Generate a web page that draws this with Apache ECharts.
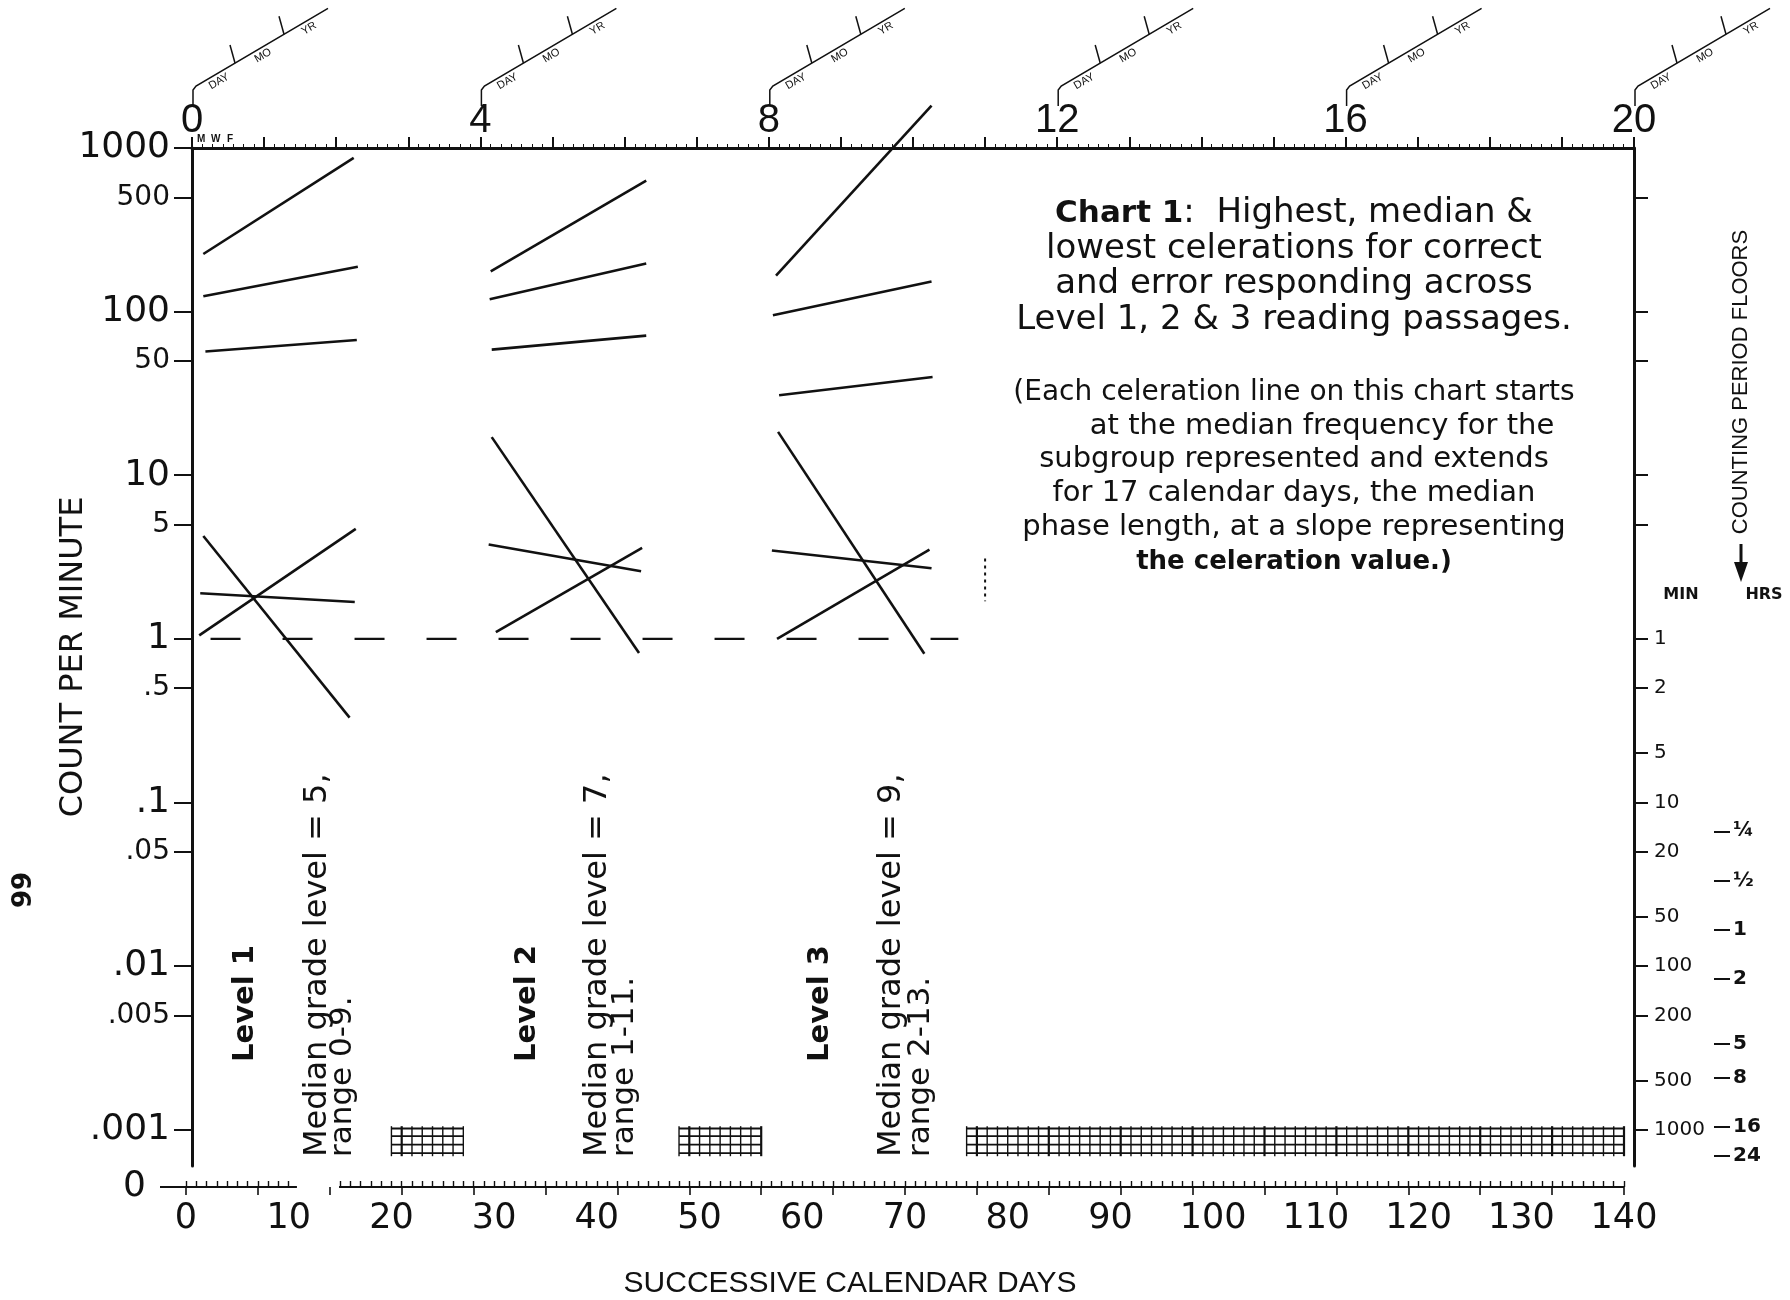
<!DOCTYPE html>
<html>
<head>
<meta charset="utf-8">
<script src="https://cdn.jsdelivr.net/npm/echarts@6.0.0/dist/echarts.min.js"></script>
<style>
  html, body { margin: 0; padding: 0; background: #fff; }
  #main { width: 1790px; height: 1300px; }
</style>
</head>
<body>
<div id="main"></div>
<script>
// celeration lines: [start day, start count/min, end day, end count/min]
var level1Lines = [
  [1.1, 225, 15.7, 870],
  [1.1, 124, 16.1, 188],
  [1.3, 57, 16.0, 67],
  [0.7, 1.05, 15.9, 4.7],
  [0.8, 1.9, 15.8, 1.68],
  [1.1, 4.25, 15.3, 0.33]
];
var level2Lines = [
  [29.0, 176, 44.1, 632],
  [28.9, 119, 44.1, 197],
  [29.1, 58.6, 44.1, 71.3],
  [29.1, 17.1, 43.4, 0.82],
  [28.8, 3.77, 43.6, 2.59],
  [29.5, 1.1, 43.7, 3.6]
];
var level3Lines = [
  [56.7, 166, 71.8, 1816],
  [56.4, 95, 71.8, 153],
  [57.0, 30.8, 71.9, 39.8],
  [56.9, 18.4, 71.1, 0.81],
  [56.3, 3.47, 71.8, 2.7],
  [56.8, 1.0, 71.6, 3.51]
];
var floorLine = [[1.8, 1], [74.4, 1]];
var phaseMark = [[77, 3.1], [77, 1.7]];
var recordFloorDays = [[20, 27], [48, 56], [76, 140]];
var dayAxisSegments = [[0, 10.8], [14.9, 140]];

// ticks and labels
var weekTickDays = [0, 28, 56, 84, 112, 140];
var weekLabels = ['0', '4', '8', '12', '16', '20'];
var mwfDays = [0.9, 2.3, 3.7];
var mwfLabels = ['M', 'W', 'F'];
var dayLabelValues = [0, 10, 20, 30, 40, 50, 60, 70, 80, 90, 100, 110, 120, 130, 140];
var countTicks = [1000, 500, 100, 50, 10, 5, 1, 0.5, 0.1, 0.05, 0.01, 0.005, 0.001];
var countLabels = ['1000', '500', '100', '50', '10', '5', '1', '.5', '.1', '.05', '.01', '.005', '.001'];
var minTicks = [500, 100, 50, 10, 5, 1, 0.5, 0.2, 0.1, 0.05, 0.02, 0.01, 0.005, 0.002, 0.001];
var minLabels = ['', '', '', '', '', '1', '2', '5', '10', '20', '50', '100', '200', '500', '1000'];
var hrsTicks = [1 / 15, 1 / 30, 1 / 60, 1 / 120, 1 / 300, 1 / 480, 1 / 960, 1 / 1440];
var hrsLabels = ['¼', '½', '1', '2', '5', '8', '16', '24'];

// texts
var titleLines = [
  '{b|Chart 1}:  Highest, median &',
  'lowest celerations for correct',
  'and error responding across',
  'Level 1, 2 & 3 reading passages.'
];
var noteLines = [
  '(Each celeration line on this chart starts',
  'at the median frequency for the',
  'subgroup represented and extends',
  'for 17 calendar days, the median',
  'phase length, at a slope representing',
  '{b|the celeration value.)}'
];
var levelNames = ['Level 1', 'Level 2', 'Level 3'];
var gradeTexts = ['Median grade level = 5,', 'Median grade level = 7,', 'Median grade level = 9,'];
var rangeTexts = ['range 0-9.', 'range 1-11.', 'range 2-13.'];
var levelLabelDays = [5.2, 32.6, 61.0];
var gradeLabelDays = [12.2, 39.4, 67.9];
var rangeLabelDays = [14.7, 42.0, 70.8];

var INK = '#111';
var SANS = 'DejaVu Sans';
var HELV = 'Liberation Sans';

function range(a, b, step) {
  var out = [];
  for (var v = a; v <= b + 1e-9; v += step) out.push(v);
  return out;
}
function lookupLog(vals, labels, v) {
  for (var i = 0; i < vals.length; i++) {
    if (Math.abs(Math.log10(vals[i]) - Math.log10(v)) < 1e-4) return labels[i];
  }
  return '';
}
function lookupLin(vals, labels, v) {
  for (var i = 0; i < vals.length; i++) {
    if (Math.abs(vals[i] - v) < 1e-6) return labels[i];
  }
  return '';
}

var chart = echarts.init(document.getElementById('main'));

function celerationSeries(lines) {
  return lines.map(function (l) {
    return {
      type: 'line', xAxisIndex: 0, yAxisIndex: 0,
      data: [[l[0], l[1]], [l[2], l[3]]],
      symbol: 'none', clip: false, silent: true,
      lineStyle: { color: INK, width: 2.6 }
    };
  });
}

var series = []
  .concat(celerationSeries(level1Lines))
  .concat(celerationSeries(level2Lines))
  .concat(celerationSeries(level3Lines));

series.push({
  type: 'line', xAxisIndex: 0, yAxisIndex: 0, data: floorLine,
  symbol: 'none', silent: true,
  lineStyle: { color: INK, width: 2.4, type: [30, 42] }
});
series.push({
  type: 'line', xAxisIndex: 0, yAxisIndex: 0, data: phaseMark,
  symbol: 'none', silent: true,
  lineStyle: { color: INK, width: 2, type: [3, 4] }
});
// bottom day axis line (with gap)
dayAxisSegments.forEach(function (s) {
  series.push({
    type: 'line', xAxisIndex: 3, yAxisIndex: 3, data: [[s[0], 0], [s[1], 0]],
    symbol: 'none', silent: true, clip: false,
    lineStyle: { color: INK, width: 2 }
  });
});
// record floor hatching
var hatchRows = [7.6, 6.6, 5.5, 4.4];
series.push({
  type: 'custom', xAxisIndex: 3, yAxisIndex: 3, data: recordFloorDays, silent: true, clip: false,
  renderItem: function (params, api) {
    var d0 = api.value(0), d1 = api.value(1);
    var kids = [];
    hatchRows.forEach(function (r) {
      var p0 = api.coord([d0, r]), p1 = api.coord([d1, r]);
      kids.push({ type: 'line', shape: { x1: p0[0], y1: p0[1], x2: p1[0], y2: p1[1] },
        style: { stroke: INK, lineWidth: 1.8 } });
    });
    for (var d = d0; d <= d1; d++) {
      var a = api.coord([d, 7.9]), b = api.coord([d, 4.0]);
      kids.push({ type: 'line', shape: { x1: a[0], y1: a[1], x2: b[0], y2: b[1] },
        style: { stroke: INK, lineWidth: d % 7 === 0 ? 2.2 : 1.4 } });
    }
    return { type: 'group', children: kids };
  }
});

var option = {
  backgroundColor: '#fff',
  animation: false,
  grid: [
    { left: 192, top: 148, width: 1442, height: 1018, outerBoundsMode: 'none' },
    { left: 186, top: 1110, width: 1438, height: 77, outerBoundsMode: 'none' }
  ],
  xAxis: [
    { // weeks (top)
      type: 'value', gridIndex: 0, position: 'top', min: 0, max: 140,
      splitLine: { show: false },
      axisLine: { show: true, onZero: false, lineStyle: { color: INK, width: 3 } },
      axisTick: { show: true, customValues: range(0, 140, 7), length: 11, lineStyle: { color: INK, width: 2 } },
      axisLabel: {
        customValues: weekTickDays, margin: 7,
        fontSize: 40, fontFamily: HELV, color: INK,
        formatter: function (v) { return lookupLin(weekTickDays, weekLabels, v); }
      }
    },
    { // daily minor ticks (top)
      type: 'value', gridIndex: 0, position: 'top', min: 0, max: 140,
      splitLine: { show: false }, axisLine: { show: false, onZero: false },
      axisTick: { show: true, customValues: range(0, 140, 1), length: 4, lineStyle: { color: INK, width: 1 } },
      axisLabel: { show: false }
    },
    { // M W F
      type: 'value', gridIndex: 0, position: 'top', min: 0, max: 140,
      splitLine: { show: false }, axisLine: { show: false, onZero: false }, axisTick: { show: false },
      axisLabel: {
        customValues: mwfDays, margin: 4, fontSize: 10, fontWeight: 'bold', fontFamily: HELV, color: INK,
        formatter: function (v) { return lookupLin(mwfDays, mwfLabels, v); }
      }
    },
    { // successive calendar days (bottom)
      type: 'value', gridIndex: 1, position: 'bottom', min: 0, max: 140,
      splitLine: { show: false }, axisLine: { show: false, onZero: false },
      axisTick: {
        show: true, inside: true, length: 6, lineStyle: { color: INK, width: 1.4 },
        customValues: range(0, 140, 1).filter(function (d) { return d < 11 || d > 14; })
      },
      axisLabel: {
        customValues: dayLabelValues, margin: 14, fontSize: 35, fontFamily: SANS, color: INK,
        formatter: function (v) { return String(Math.round(v)); }
      }
    },
    { // weekly downward ticks (bottom)
      type: 'value', gridIndex: 1, position: 'bottom', min: 0, max: 140,
      splitLine: { show: false }, axisLine: { show: false, onZero: false },
      axisTick: { show: true, length: 8, customValues: range(0, 140, 7), lineStyle: { color: INK, width: 1.6 } },
      axisLabel: { show: false }
    }
  ],
  yAxis: [
    { // count per minute
      type: 'log', logBase: 10, gridIndex: 0, position: 'left', min: 0.0006, max: 1000,
      splitLine: { show: false },
      axisLine: { show: true, onZero: false, lineStyle: { color: INK, width: 3 } },
      axisTick: { show: true, customValues: countTicks, length: 18, lineStyle: { color: INK, width: 2 } },
      axisLabel: {
        customValues: countTicks, margin: 22, color: INK,
        formatter: function (v) {
          var t = lookupLog(countTicks, countLabels, v);
          if (!t) return '';
          var lg = Math.log10(v);
          var big = Math.abs(lg - Math.round(lg)) < 1e-4;
          return '{' + (big ? 'big' : 'small') + '|' + t + '}';
        },
        rich: {
          big: { fontSize: 36, fontFamily: SANS, color: INK },
          small: { fontSize: 28, fontFamily: SANS, color: INK }
        }
      },
      name: 'COUNT PER MINUTE', nameLocation: 'middle', nameGap: 102, nameRotate: 90,
      nameMoveOverlap: false,
      nameTextStyle: { fontSize: 32, fontFamily: SANS, color: INK }
    },
    { // counting period floors, minutes
      type: 'log', logBase: 10, gridIndex: 0, position: 'right', min: 0.0006, max: 1000,
      splitLine: { show: false },
      axisLine: { show: true, onZero: false, lineStyle: { color: INK, width: 3 } },
      axisTick: { show: true, customValues: minTicks, length: 14, lineStyle: { color: INK, width: 2 } },
      axisLabel: {
        customValues: minTicks.filter(function (v) { return v <= 1; }),
        margin: 20, fontSize: 20, fontFamily: SANS, color: INK,
        formatter: function (v) { return lookupLog(minTicks, minLabels, v); }
      }
    },
    { // counting period floors, hours
      type: 'log', logBase: 10, gridIndex: 0, position: 'right', offset: 80, min: 0.0006, max: 1000,
      splitLine: { show: false }, axisLine: { show: false, onZero: false },
      axisTick: { show: true, customValues: hrsTicks, length: 16, lineStyle: { color: INK, width: 2 } },
      axisLabel: {
        customValues: hrsTicks, margin: 19, fontSize: 20, fontWeight: 'bold', fontFamily: SANS, color: INK,
        formatter: function (v) { return lookupLog(hrsTicks, hrsLabels, v); }
      }
    },
    { // zero row
      type: 'value', gridIndex: 1, position: 'left', min: 0, max: 10,
      splitLine: { show: false }, axisLine: { show: false, onZero: false },
      axisTick: { show: true, customValues: [0], length: 26, lineStyle: { color: INK, width: 2 } },
      axisLabel: { customValues: [0], margin: 40, fontSize: 36, fontFamily: SANS, color: INK,
        formatter: function () { return '0'; } }
    }
  ],
  series: series
};
chart.setOption(option);

// annotations placed through the axes
function dayX(d) { return chart.convertToPixel({ xAxisIndex: 0 }, d); }
function celerationFan(X) {
  var k = 0.588;
  function fy(dx) { return 86 - (dx - 4) * k; }
  var st = { stroke: INK, lineWidth: 1.5, fill: 'none' };
  var fnt = '11px ' + HELV;
  var rot = Math.atan(k);
  return [
    { type: 'polyline', shape: { points: [[X + 1, 106], [X + 1, 90], [X + 4, 86], [X + 136, fy(136)]] }, style: st },
    { type: 'line', shape: { x1: X + 43, y1: fy(43), x2: X + 38, y2: fy(43) - 18 }, style: st },
    { type: 'line', shape: { x1: X + 92, y1: fy(92), x2: X + 87, y2: fy(92) - 18 }, style: st },
    { type: 'text', x: X + 27, y: fy(27) + 9, rotation: rot, style: { text: 'DAY', font: fnt, fill: INK, textAlign: 'center', textVerticalAlign: 'middle' } },
    { type: 'text', x: X + 71, y: fy(71) + 9, rotation: rot, style: { text: 'MO', font: fnt, fill: INK, textAlign: 'center', textVerticalAlign: 'middle' } },
    { type: 'text', x: X + 117, y: fy(117) + 9, rotation: rot, style: { text: 'YR', font: fnt, fill: INK, textAlign: 'center', textVerticalAlign: 'middle' } }
  ];
}

var g = [];
weekTickDays.forEach(function (d) { g = g.concat(celerationFan(dayX(d))); });

var titleY = [213.5, 249, 284.5, 320];
titleLines.forEach(function (t, i) {
  g.push({ type: 'text', x: 1294, y: titleY[i], style: {
    text: t, font: '34px ' + SANS, fill: INK, textAlign: 'center', textVerticalAlign: 'middle',
    rich: { b: { fontWeight: 'bold', fontSize: 31, fontFamily: SANS, fill: INK } } } });
});
var noteY = [393, 426, 459, 493.5, 527.5, 562];
var noteX = [1294, 1322, 1294, 1294, 1294, 1294];
var noteSize = [28, 29, 29, 29, 29, 29];
noteLines.forEach(function (t, i) {
  g.push({ type: 'text', x: noteX[i], y: noteY[i], style: {
    text: t, font: noteSize[i] + 'px ' + SANS, fill: INK, textAlign: 'center', textVerticalAlign: 'middle',
    rich: { b: { fontWeight: 'bold', fontSize: 26, fontFamily: SANS, fill: INK } } } });
});

levelNames.forEach(function (t, i) {
  g.push({ type: 'text', x: dayX(levelLabelDays[i]), y: 1062, rotation: Math.PI / 2,
    style: { text: t, font: 'bold 29px ' + SANS, fill: INK, textAlign: 'left', textVerticalAlign: 'middle' } });
  g.push({ type: 'text', x: dayX(gradeLabelDays[i]), y: 1157, rotation: Math.PI / 2,
    style: { text: gradeTexts[i], font: '32px ' + SANS, fill: INK, textAlign: 'left', textVerticalAlign: 'middle' } });
  g.push({ type: 'text', x: dayX(rangeLabelDays[i]), y: 1157, rotation: Math.PI / 2,
    style: { text: rangeTexts[i], font: '31px ' + SANS, fill: INK, textAlign: 'left', textVerticalAlign: 'middle' } });
});

g.push({ type: 'text', x: 850, y: 1284, style: { text: 'SUCCESSIVE CALENDAR DAYS', font: '30px ' + HELV,
  fill: INK, textAlign: 'center', textVerticalAlign: 'middle' } });
g.push({ type: 'text', x: 24, y: 890, rotation: Math.PI / 2, style: { text: '99', font: 'bold 26px ' + SANS,
  fill: INK, textAlign: 'center', textVerticalAlign: 'middle' } });
g.push({ type: 'text', x: 1741, y: 382, rotation: Math.PI / 2, style: { text: 'COUNTING PERIOD FLOORS',
  font: '22px ' + HELV, fill: INK, textAlign: 'center', textVerticalAlign: 'middle' } });
g.push({ type: 'line', shape: { x1: 1741, y1: 544, x2: 1741, y2: 566 }, style: { stroke: INK, lineWidth: 3 } });
g.push({ type: 'polygon', shape: { points: [[1734, 562], [1748, 562], [1741, 582]] }, style: { fill: INK } });
g.push({ type: 'text', x: 1681, y: 595, style: { text: 'MIN', font: 'bold 16px ' + SANS, fill: INK,
  textAlign: 'center', textVerticalAlign: 'middle' } });
g.push({ type: 'text', x: 1764, y: 595, style: { text: 'HRS', font: 'bold 16px ' + SANS, fill: INK,
  textAlign: 'center', textVerticalAlign: 'middle' } });

g.forEach(function (e) { e.silent = true; });
chart.setOption({ graphic: g });
window.onresize = chart.resize;
</script>
</body>
</html>
